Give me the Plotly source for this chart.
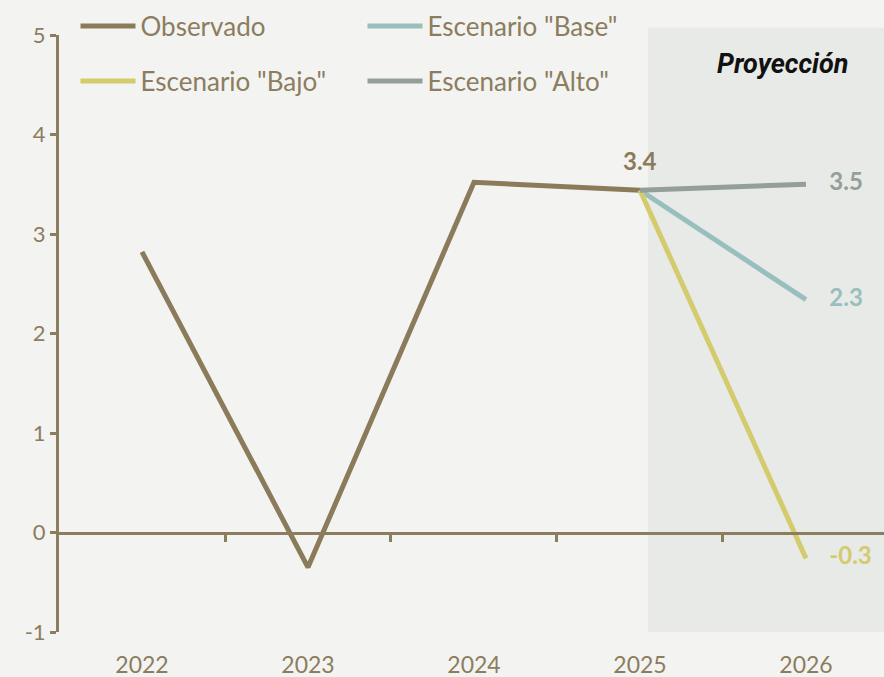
import plotly.graph_objects as go

years = ["2022", "2023", "2024", "2025", "2026"]
x_obs = [0, 1, 2, 3]
observado = [2.82, -0.35, 3.52, 3.44]
x_esc = [3, 4]
base = [3.44, 2.34]
bajo = [3.44, -0.26]
alto = [3.44, 3.50]
obs_label = "3.4"
base_label = "2.3"
bajo_label = "-0.3"
alto_label = "3.5"
y_ticks = [-1, 0, 1, 2, 3, 4, 5]
y_ticktext = ["-1", "0", "1", "2", "3", "4", "5"]

C_OBS = "#8B7B5A"
C_BASE = "#98BFBE"
C_BAJO = "#D4CB6E"
C_ALTO = "#939F98"
C_AX = "#8B7D5E"
FONT = "Lato"
PAD = "\u00a0\u00a0\u00a0\u00a0"
LW = 5

fig = go.Figure()
fig.add_shape(type="rect", xref="x", yref="paper", x0=3.048, x1=4.6, y0=0, y1=1.012,
              fillcolor="#E8EAE7", line_width=0, layer="below")

lbl_font = lambda c: dict(family=FONT, size=24, color=c, weight="bold")

fig.add_trace(go.Scatter(x=x_obs, y=observado, mode="lines", name="Observado",
                         line=dict(color=C_OBS, width=LW), legend="legend", hoverinfo="skip"))
fig.add_trace(go.Scatter(x=x_esc, y=base, mode="lines+text", name='Escenario "Base"',
                         line=dict(color=C_BASE, width=LW), legend="legend",
                         text=["", PAD + base_label], textposition="middle right",
                         textfont=lbl_font(C_BASE), hoverinfo="skip"))
fig.add_trace(go.Scatter(x=x_esc, y=bajo, mode="lines+text", name='Escenario "Bajo"',
                         line=dict(color=C_BAJO, width=LW), legend="legend2",
                         text=["", PAD + bajo_label], textposition="middle right",
                         textfont=lbl_font(C_BAJO), hoverinfo="skip"))
fig.add_trace(go.Scatter(x=x_esc, y=alto, mode="lines+text", name='Escenario "Alto"',
                         line=dict(color=C_ALTO, width=LW), legend="legend2",
                         text=["", PAD + alto_label], textposition="middle right",
                         textfont=lbl_font(C_ALTO), hoverinfo="skip"))
# dummy trace to activate xaxis2
fig.add_trace(go.Scatter(x=[None], y=[None], xaxis="x2", showlegend=False, hoverinfo="skip"))

fig.add_annotation(text=obs_label, x=x_obs[-1], y=observado[-1], xref="x", yref="y",
                   showarrow=False, yshift=30, xanchor="center", yanchor="middle",
                   font=lbl_font(C_OBS))

fig.add_annotation(text="<b><i>Proyección</i></b>", x=(782 - 59) / 825, y=(632 - 64) / 597,
                   xref="paper", yref="paper", showarrow=False, xanchor="center", yanchor="middle",
                   font=dict(family="Roboto", size=27, color="#111111"))

legend_common = dict(orientation="h", xref="paper", yref="container", xanchor="left", yanchor="middle",
                     font=dict(family=FONT, size=26, color=C_AX), bgcolor="rgba(0,0,0,0)",
                     entrywidth=217, entrywidthmode="pixels", itemwidth=55)

fig.update_layout(
    width=884, height=677,
    margin=dict(l=59, r=0, t=35, b=45, autoexpand=False),
    paper_bgcolor="#F3F3F1", plot_bgcolor="rgba(0,0,0,0)",
    showlegend=True,
    legend=dict(x=0.02, y=1 - 26 / 677, **legend_common),
    legend2=dict(x=0.02, y=1 - 81 / 677, **legend_common),
    xaxis=dict(range=[-0.5, 4.47], tickvals=[0, 1, 2, 3, 4], ticktext=years,
               showgrid=False, zeroline=False, showline=False, ticks="",
               tickfont=dict(family=FONT, size=23, color=C_AX), ticklabelstandoff=17),
    xaxis2=dict(range=[-0.5, 4.47], overlaying="x", anchor="free", position=1 / 6, side="bottom",
                tickvals=[0.5, 1.5, 2.5, 3.5], showticklabels=False, ticks="outside",
                ticklen=7, tickwidth=3, tickcolor=C_AX, showline=True, linecolor=C_AX,
                linewidth=3, showgrid=False, zeroline=False),
    yaxis=dict(range=[-1, 5], tickvals=y_ticks, ticktext=y_ticktext, showgrid=False,
               zeroline=False, showline=True,
               linecolor=C_AX, linewidth=3, ticks="outside", ticklen=6, tickwidth=3,
               tickcolor=C_AX, tickfont=dict(family=FONT, size=22, color=C_AX)),
)

fig.write_html("out.html", config={"displayModeBar": False},
               post_script="document.body.style.margin='0';document.body.style.background='#F3F3F1';")
